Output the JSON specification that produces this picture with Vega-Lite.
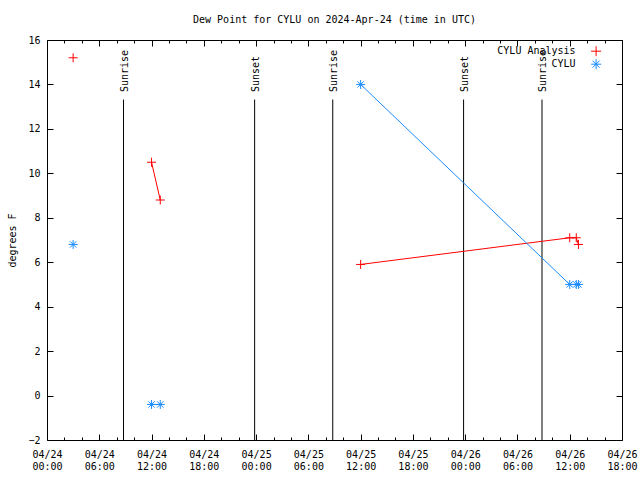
{
  "$schema": "https://vega.github.io/schema/vega-lite/v6.json",
  "width": 575,
  "height": 400,
  "autosize": "none",
  "padding": {"left": 47, "top": 40, "right": 18, "bottom": 40},
  "background": "white",
  "title": {"text": "Dew Point for CYLU on 2024-Apr-24 (time in UTC)", "font": "DejaVu Sans Mono", "fontSize": 10, "fontWeight": "normal", "color": "black", "anchor": "middle", "offset": 10},
  "config": {
    "view": {"stroke": "black", "strokeWidth": 1},
    "axis": {"labelFont": "DejaVu Sans Mono", "labelFontSize": 10, "labelColor": "black", "titleFont": "DejaVu Sans Mono", "titleFontSize": 10, "titleFontWeight": "normal", "titleColor": "black", "domain": false, "grid": false, "tickColor": "black", "tickWidth": 1}
  },
  "datasets": {
    "obs": [
      {"series": "CYLU Analysis", "seg": "a1", "t": "2024-04-24T03:00:00Z", "v": 15.2},
      {"series": "CYLU Analysis", "seg": "a2", "t": "2024-04-24T12:00:00Z", "v": 10.5},
      {"series": "CYLU Analysis", "seg": "a2", "t": "2024-04-24T13:00:00Z", "v": 8.8},
      {"series": "CYLU Analysis", "seg": "a3", "t": "2024-04-25T12:00:00Z", "v": 5.9},
      {"series": "CYLU Analysis", "seg": "a3", "t": "2024-04-26T12:00:00Z", "v": 7.1},
      {"series": "CYLU Analysis", "seg": "a3", "t": "2024-04-26T12:45:00Z", "v": 7.1},
      {"series": "CYLU Analysis", "seg": "a3", "t": "2024-04-26T13:00:00Z", "v": 6.8},
      {"series": "CYLU", "seg": "b1", "t": "2024-04-24T03:00:00Z", "v": 6.8},
      {"series": "CYLU", "seg": "b2", "t": "2024-04-24T12:00:00Z", "v": -0.4},
      {"series": "CYLU", "seg": "b2", "t": "2024-04-24T13:00:00Z", "v": -0.4},
      {"series": "CYLU", "seg": "b3", "t": "2024-04-25T12:00:00Z", "v": 14.0},
      {"series": "CYLU", "seg": "b3", "t": "2024-04-26T12:00:00Z", "v": 5.0},
      {"series": "CYLU", "seg": "b3", "t": "2024-04-26T12:45:00Z", "v": 5.0},
      {"series": "CYLU", "seg": "b3", "t": "2024-04-26T13:00:00Z", "v": 5.0}
    ],
    "sun": [
      {"label": "Sunrise", "t": "2024-04-24T08:47:00Z"},
      {"label": "Sunset", "t": "2024-04-24T23:50:00Z"},
      {"label": "Sunrise", "t": "2024-04-25T08:48:00Z"},
      {"label": "Sunset", "t": "2024-04-25T23:49:00Z"},
      {"label": "Sunrise", "t": "2024-04-26T08:49:00Z"}
    ]
  },
  "resolve": {"axis": {"x": "independent", "y": "independent"}},
  "layer": [
    {
      "data": {"name": "sun"},
      "mark": {"type": "rule", "color": "black", "strokeWidth": 1},
      "encoding": {
        "x": {"field": "t", "type": "temporal",
          "scale": {"type": "utc", "domain": [1713916800000, 1714154400000], "nice": false},
          "axis": {"orient": "bottom", "title": null,
            "values": [1713916800000, 1713938400000, 1713960000000, 1713981600000, 1714003200000, 1714024800000, 1714046400000, 1714068000000, 1714089600000, 1714111200000, 1714132800000, 1714154400000],
            "labelOverlap": false, "labelFlush": false, "labelAngle": 0, "labelPadding": 15, "labelLineHeight": 12, "labelBaseline": "top", "tickSize": -6,
            "labelExpr": "[utcFormat(datum.value, '%m/%d'), utcFormat(datum.value, '%H:%M')]"}},
        "y": {"datum": 13.32, "type": "quantitative",
          "scale": {"domain": [-2, 16], "nice": false, "zero": false},
          "axis": {"orient": "left", "title": "degrees F", "values": [-2, 0, 2, 4, 6, 8, 10, 12, 14, 16], "tickSize": -6, "labelPadding": 13, "titlePadding": 10}},
        "y2": {"datum": -2}
      }
    },
    {
      "data": {"name": "sun"},
      "mark": {"type": "text", "angle": 270, "align": "left", "baseline": "middle", "font": "DejaVu Sans Mono", "fontSize": 10, "color": "black", "dy": 1},
      "encoding": {
        "x": {"field": "t", "type": "temporal",
          "axis": {"orient": "top", "title": null, "labels": false, "tickSize": -6,
            "values": [1713916800000, 1713938400000, 1713960000000, 1713981600000, 1714003200000, 1714024800000, 1714046400000, 1714068000000, 1714089600000, 1714111200000, 1714132800000, 1714154400000]}},
        "y": {"datum": 13.66, "type": "quantitative",
          "axis": {"orient": "right", "title": null, "labels": false, "values": [-2, 0, 2, 4, 6, 8, 10, 12, 14, 16], "tickSize": -6}},
        "text": {"field": "label"}
      }
    },
    {
      "data": {"name": "obs"},
      "mark": {"type": "line", "strokeWidth": 1},
      "encoding": {
        "x": {"field": "t", "type": "temporal",
          "axis": {"orient": "bottom", "title": null, "labels": false, "tickSize": -3,
            "values": [1713924000000, 1713931200000, 1713945600000, 1713952800000, 1713967200000, 1713974400000, 1713988800000, 1713996000000, 1714010400000, 1714017600000, 1714032000000, 1714039200000, 1714053600000, 1714060800000, 1714075200000, 1714082400000, 1714096800000, 1714104000000, 1714118400000, 1714125600000, 1714140000000, 1714147200000]}},
        "y": {"field": "v", "type": "quantitative", "axis": null},
        "detail": {"field": "seg"},
        "color": {"field": "series", "type": "nominal",
          "scale": {"domain": ["CYLU Analysis", "CYLU"], "range": ["#ff0000", "#1a8cff"]},
          "legend": {"title": null, "orient": "none", "legendX": 543.6, "legendY": 5.7, "labelAlign": "right", "labelOffset": -26, "symbolSize": 100, "symbolStrokeWidth": 1, "rowPadding": -4, "padding": 0,
            "labelFont": "DejaVu Sans Mono", "labelFontSize": 10, "labelColor": "black",
            "encode": {"symbols": {"update": {
              "shape": {"value": {"expr": "datum.value == 'CYLU' ? 'M-3,0H3M-0.9,0H0.9M0,-0.9V0.9M-0.65,-0.65L0.65,0.65M-0.65,0.65L0.65,-0.65' : 'M-3,0H3M-0.9,0H0.9M0,-0.9V0.9'"}}
            }}}}}
      }
    },
    {
      "data": {"name": "obs"},
      "mark": {"type": "point", "filled": false, "size": 81, "strokeWidth": 1, "opacity": 1},
      "encoding": {
        "x": {"field": "t", "type": "temporal",
          "axis": {"orient": "top", "title": null, "labels": false, "tickSize": -3,
            "values": [1713924000000, 1713931200000, 1713945600000, 1713952800000, 1713967200000, 1713974400000, 1713988800000, 1713996000000, 1714010400000, 1714017600000, 1714032000000, 1714039200000, 1714053600000, 1714060800000, 1714075200000, 1714082400000, 1714096800000, 1714104000000, 1714118400000, 1714125600000, 1714140000000, 1714147200000]}},
        "y": {"field": "v", "type": "quantitative", "axis": null},
        "color": {"field": "series", "type": "nominal"},
        "shape": {"field": "series", "type": "nominal",
          "scale": {"domain": ["CYLU Analysis", "CYLU"], "range": ["M-1,0H1M0,-1V1", "M-1,0H1M0,-1V1M-0.7,-0.7L0.7,0.7M-0.7,0.7L0.7,-0.7"]},
          "legend": null}
      }
    }
  ]
}
